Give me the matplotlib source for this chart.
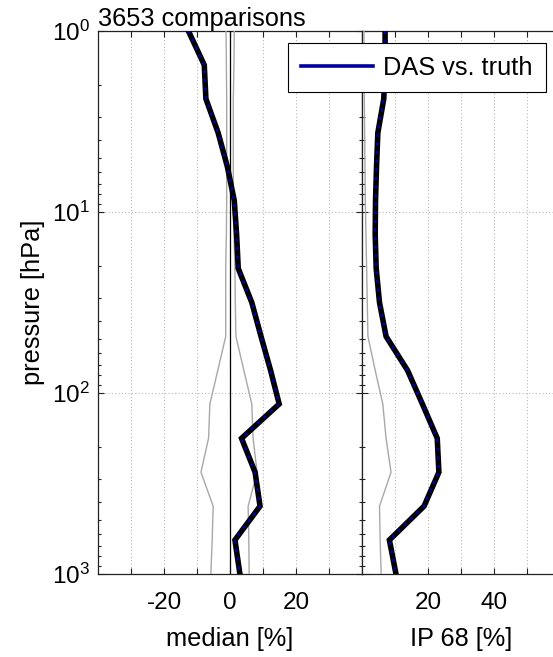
import math
import matplotlib
matplotlib.use('Agg')
import matplotlib.pyplot as plt
from matplotlib.lines import Line2D
from matplotlib.ticker import FixedLocator, FuncFormatter, LogLocator, NullFormatter

plt.rcParams['font.family'] = ['Liberation Sans', 'DejaVu Sans']
plt.rcParams['mathtext.fontset'] = 'custom'
plt.rcParams['mathtext.rm'] = 'Liberation Sans'
plt.rcParams['mathtext.it'] = 'Liberation Sans:italic'
plt.rcParams['mathtext.bf'] = 'Liberation Sans:bold'

# ---- data ----
pressure = [1.0, 1.54, 2.37, 3.65, 5.62, 8.66, 13.3, 20.5, 31.6, 48.7,
            75.0, 115.0, 178.0, 274.0, 422.0, 649.0, 1000.0]
median_das = [-12.6, -7.8, -7.3, -3.6, -0.8, 1.3, 2.0, 2.5, 6.6, 9.4,
              12.3, 14.9, 3.5, 7.6, 9.1, 1.5, 3.0]
ip68_das = [7.0, 7.0, 6.6, 4.8, 4.4, 4.1, 4.0, 4.3, 5.3, 7.3,
            13.8, 18.3, 22.8, 23.3, 18.8, 8.3, 10.3]
median_lo = [-1.2, -1.1, -1.0, -1.0, -1.0, -1.0, -1.1, -1.3, -1.3, -1.3,
             -3.7, -6.1, -6.5, -8.8, -5.1, -5.4, -5.8]
median_hi = [1.3, 1.2, 1.0, 1.0, 1.0, 1.0, 1.2, 1.5, 1.6, 1.8,
             4.2, 6.6, 7.0, 8.2, 5.5, 5.7, 5.8]
ip68_ref = [0.6, 0.6, 0.7, 0.8, 0.9, 1.0, 1.2, 1.4, 1.6, 1.8,
            4.0, 6.3, 7.3, 8.8, 5.3, 5.5, 5.8]
n_comparisons = 3653
series_label = 'DAS vs. truth'

left_xticks = [-30, -20, -10, 0, 10, 20, 30]
left_xlabels = {-20: '-20', 0: '0', 20: '20'}
right_xticks = [10, 20, 30, 40, 50]
right_xlabels = {20: '20', 40: '40'}

FS = 18.3
TFS = 17.5
W, H = 553, 657
fig = plt.figure(figsize=(W / 100, H / 100), dpi=100)
ax1 = fig.add_axes([98 / W, 83 / H, 264 / W, 543 / H])
ax2 = fig.add_axes([362 / W, 83 / H, 198 / W, 543 / H])

blue = '#0000a0'
grey = '#a8a8a8'

def draw_main(ax, x):
    ax.plot(x, pressure, color='black', lw=4.0, solid_joinstyle='miter', zorder=5)
    ax.plot(x, pressure, color=blue, lw=2.0, linestyle=(0, (1.1, 2.0)), zorder=6)

ax1.axvline(0, color='black', lw=0.9, zorder=3)
ax1.plot(median_lo, pressure, color=grey, lw=1.0, zorder=3)
ax1.plot(median_hi, pressure, color=grey, lw=1.0, zorder=3)
draw_main(ax1, median_das)

ax2.plot(ip68_ref, pressure, color=grey, lw=1.0, zorder=3)
draw_main(ax2, ip68_das)

for ax in (ax1, ax2):
    ax.set_yscale('log')
    ax.set_ylim(1000, 1)
    ax.yaxis.set_major_locator(FixedLocator([1, 10, 100, 1000]))
    ax.yaxis.set_minor_locator(LogLocator(base=10, subs=range(2, 10)))
    ax.yaxis.set_minor_formatter(NullFormatter())
    ax.grid(True, which='major', linestyle=(0, (1, 2)), color='#b8b8b8', lw=0.8)
    ax.set_axisbelow(True)
    ax.tick_params(which='both', direction='in', top=True, right=True,
                   labelsize=TFS, width=0.8, color='#222222')
    ax.tick_params(which='major', length=4.3)
    ax.tick_params(which='minor', length=2.5)
    ax.tick_params(axis='x', pad=13)
    for s in ax.spines.values():
        s.set_linewidth(0.9)
        s.set_color('#222222')

ax1.set_xlim(-40, 40)
ax1.set_xticks(left_xticks)
ax1.set_xticklabels([left_xlabels.get(t, '') for t in left_xticks])
ax1.yaxis.set_major_formatter(FuncFormatter(
    lambda v, p: r'$\mathregular{10^{%d}}$' % round(math.log10(v))))
ax1.tick_params(axis='y', pad=6)

ax2.set_xlim(0, 60)
ax2.set_xticks(right_xticks)
ax2.set_xticklabels([right_xlabels.get(t, '') for t in right_xticks])
ax2.tick_params(axis='y', labelleft=False)

ax1.set_xlabel('median [%]', fontsize=FS, labelpad=9)
ax2.set_xlabel('IP 68 [%]', fontsize=FS, labelpad=9)
ax1.set_ylabel('pressure [hPa]', fontsize=FS, labelpad=5)

ax1.text(0, 1 + 5 / 543, f'{n_comparisons} comparisons', transform=ax1.transAxes,
         ha='left', va='baseline', fontsize=FS)

leg = fig.legend(handles=[Line2D([], [], color=blue, lw=2.6)], labels=[series_label],
                 loc='upper left', bbox_to_anchor=(288 / W, 1 - 43 / H),
                 frameon=True, fancybox=False, edgecolor='black', framealpha=1,
                 borderaxespad=0, fontsize=FS, handlelength=2.85,
                 handletextpad=0.4, borderpad=0.5)
leg.get_frame().set_linewidth(0.8)

fig.savefig('out.png', dpi=100)
